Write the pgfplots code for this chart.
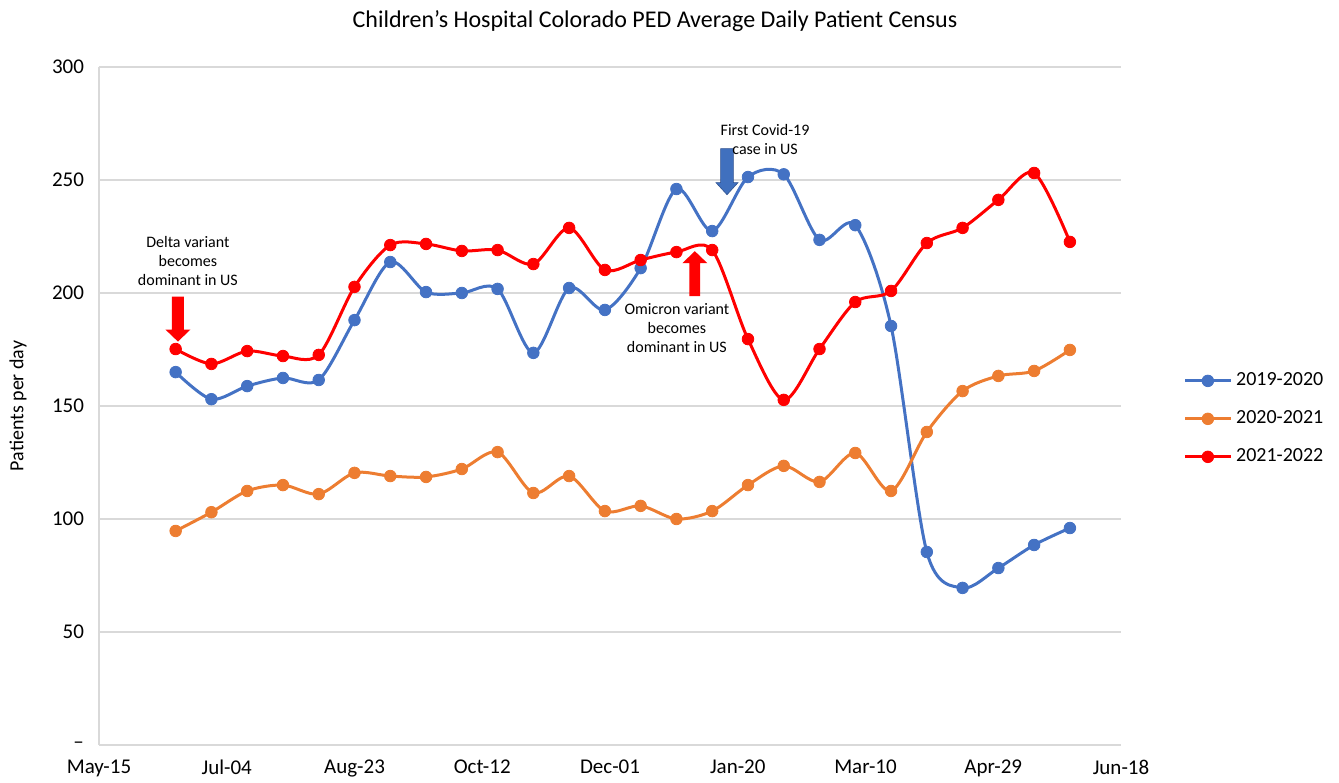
\documentclass[border=0pt]{standalone}
\usepackage{fontspec}
\setmainfont{Carlito}
\usepackage{pgfplots}
\pgfplotsset{compat=1.18}
\definecolor{cblue}{HTML}{4472C4}
\definecolor{corange}{HTML}{ED7D31}
\definecolor{cred}{HTML}{FF0000}
\definecolor{cgrid}{HTML}{D9D9D9}
\definecolor{carrowblue}{HTML}{4070BE}
\definecolor{carrowedge}{HTML}{2F528F}
\begin{document}
\begin{tikzpicture}
\begin{axis}[
  scale only axis, width=511pt, height=339pt,
  xmin=0, xmax=400, ymin=0, ymax=300,
  axis x line=bottom, axis y line=left,
  axis line style={-, draw=cgrid, line width=1pt},
  xtick={0,50,...,400},
  xticklabels={May-15,Jul-04,Aug-23,Oct-12,Dec-01,Jan-20,Mar-10,Apr-29,Jun-18},
  ytick={0,50,...,300},
  yticklabels={–,50,100,150,200,250,300},
  major tick length=0pt,
  ymajorgrids, grid style={cgrid, line width=1pt},
  tick label style={font=\fontsize{10.5}{12}\selectfont},
  xticklabel style={yshift=-4pt},
  yticklabel style={xshift=-4pt},
  ylabel={Patients per day},
  ylabel style={font=\fontsize{10}{12}\selectfont, at={(axis description cs:-0.0793,0.5)}, anchor=center},
  legend style={at={(axis description cs:1.055,0.481)}, anchor=west, draw=none, fill=none,
    font=\fontsize{10}{12}\selectfont, row sep=7pt},
  legend cell align=left,
  legend image code/.code={\draw[mark repeat=2,mark phase=2] plot coordinates {(0cm,0cm) (0.4cm,0cm) (0.8cm,0cm)};},
  clip=false,
]
\addplot[cblue, line width=1.5pt, smooth, mark=*, mark size=2.9pt, mark options={fill=cblue, draw=cblue, line width=0.4pt}] coordinates {
(30,165) (44,153) (58,158.8) (72,162.4) (86,161.5) (100,188) (114,213.7) (128,200.4) (142,200) (156,201.8)
(170,173.5) (184,202.2) (198,192.5) (212,211) (226,246) (240,227.4) (254,251.3) (268,252.5) (282,223.5) (296,230)
(310,185.4) (324,85.4) (338,69.5) (352,78.3) (366,88.5) (380,96)};
\addlegendentry{2019-2020}
\addplot[corange, line width=1.5pt, smooth, mark=*, mark size=2.9pt, mark options={fill=corange, draw=corange, line width=0.4pt}] coordinates {
(30,94.7) (44,103) (58,112.4) (72,115) (86,111) (100,120.4) (114,119) (128,118.6) (142,122.1) (156,129.6)
(170,111.5) (184,119) (198,103.5) (212,105.8) (226,100) (240,103.5) (254,115) (268,123.5) (282,116.4) (296,129.2)
(310,112.4) (324,138.5) (338,156.6) (352,163.3) (366,165.5) (380,174.8)};
\addlegendentry{2020-2021}
\addplot[cred, line width=1.5pt, smooth, mark=*, mark size=2.9pt, mark options={fill=cred, draw=cred, line width=0.4pt}] coordinates {
(30,175.2) (44,168.6) (58,174.3) (72,172.1) (86,172.6) (100,202.7) (114,221.2) (128,221.7) (142,218.6) (156,219)
(170,212.8) (184,228.8) (198,210.2) (212,214.6) (226,218.1) (240,219) (254,179.6) (268,152.7) (282,175.2) (296,196)
(310,200.9) (324,222.1) (338,228.8) (352,241.2) (366,253.1) (380,222.6)};
\addlegendentry{2021-2022}
\coordinate (bl) at (rel axis cs:0,0);
\coordinate (tr) at (rel axis cs:1,1);
% annotations
\fill[cred] (axis cs:30.9,178.5) -- ++(-6.25pt,6pt) -- ++(3.25pt,0) -- ++(0,16.5pt) -- ++(6pt,0) -- ++(0,-16.5pt) -- ++(3.25pt,0) -- cycle;
\filldraw[fill=carrowblue, draw=carrowedge, line width=0.3pt] (axis cs:245.8,243.5) -- ++(-5.5pt,6pt) -- ++(2.3pt,0) -- ++(0,17pt) -- ++(6.4pt,0) -- ++(0,-17pt) -- ++(2.3pt,0) -- cycle;
\fill[cred] (axis cs:233.2,218.5) -- ++(-6.25pt,-6pt) -- ++(3.55pt,0) -- ++(0,-16.5pt) -- ++(5.4pt,0) -- ++(0,16.5pt) -- ++(3.55pt,0) -- cycle;
\node[font=\fontsize{8}{9.6}\selectfont, align=center] at (axis cs:34.8,214.2) {Delta variant\\becomes\\dominant in US};
\node[font=\fontsize{8}{9.6}\selectfont, align=center] at (axis cs:260.7,267.9) {First Covid-19\\case in US};
\node[font=\fontsize{8}{9.6}\selectfont, align=center] at (axis cs:226.2,184.5) {Omicron variant\\becomes\\dominant in US};
\node[font=\fontsize{12}{14}\selectfont] at (rel axis cs:0.544,1) [yshift=23pt] {Children’s Hospital Colorado PED Average Daily Patient Census};
\end{axis}
\pgfresetboundingbox
\path ([shift={(-49.5pt,-19pt)}]bl) rectangle ([shift={(109pt,33.5pt)}]tr);
\end{tikzpicture}
\end{document}
